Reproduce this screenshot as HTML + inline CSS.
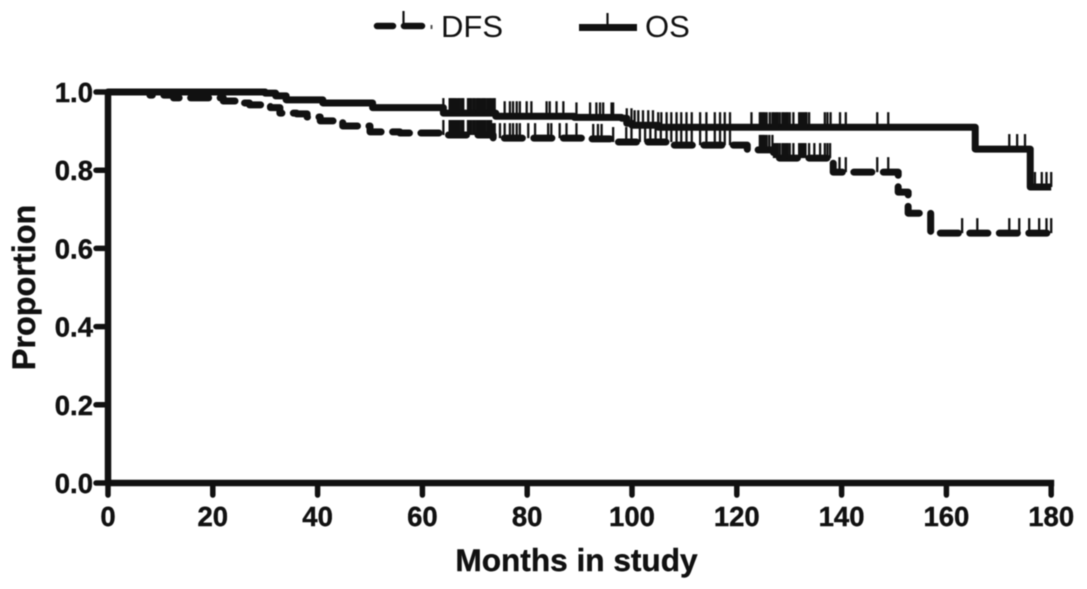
<!DOCTYPE html>
<html lang="en">
<head>
<meta charset="utf-8">
<title>Proportion over months in study</title>
<style>
html,body{margin:0;padding:0;background:#fff;}
#chart{display:block;width:1087px;height:589px;filter:blur(0.5px);}
text{fill:#111;font-family:"Liberation Sans",sans-serif;}
.b{font-weight:bold;stroke:#111;stroke-width:0.4px;}
</style>
</head>
<body>
<svg id="chart" xmlns="http://www.w3.org/2000/svg" width="1087" height="589" viewBox="0 0 1087 589">
  <rect width="1087" height="589" fill="#fff"/>
  <g id="series"></g>
  <g id="axes"></g>
  <text class="b" x="576.500" y="571" font-size="31.600" text-anchor="middle">Months in study</text>
  <text class="b" transform="translate(35,287.500) rotate(-90)" font-size="32.400" text-anchor="middle">Proportion</text>
  <g>
    <g>
      <path d="M377 26H393" stroke="#111" stroke-width="6.500" stroke-linecap="round" fill="none"/>
      <path d="M404 26H422" stroke="#111" stroke-width="6.500" stroke-linecap="round" fill="none"/>
      <path d="M431.500 25V29" stroke="#555" stroke-width="2" fill="none"/>
      <path d="M403.500 11V26" stroke="#111" stroke-width="2.200" fill="none"/>
      <text x="441" y="37" font-size="31">DFS</text>
    </g>
    <g>
      <path d="M579 27.500H637" stroke="#111" stroke-width="7" fill="none"/>
      <path d="M607.500 13V27" stroke="#111" stroke-width="2.200" fill="none"/>
      <text x="645" y="37" font-size="31">OS</text>
    </g>
  </g>
</svg>
<script>
const xTickLabels = [0, 20, 40, 60, 80, 100, 120, 140, 160, 180];
const yTickLabels = ["0.0", "0.2", "0.4", "0.6", "0.8", "1.0"];

const osStepMonths = [0, 30, 32, 34, 41, 50.5, 64, 74, 89, 98, 99, 100, 105, 165.5, 176, 180];
const osStepValues = [1, 0.997, 0.99, 0.98, 0.972, 0.96, 0.946, 0.938, 0.935, 0.933, 0.92, 0.915, 0.91, 0.854, 0.757, 0.757];

const dfsStepMonths = [0, 8, 12.5, 22, 25, 27, 31, 32.8, 36, 38, 40.5, 44.8, 50, 55.7, 64, 73.5, 91, 96, 108, 122, 127, 138.4, 150.8, 152.7, 157, 180];
const dfsStepValues = [1, 0.992, 0.985, 0.977, 0.972, 0.967, 0.96, 0.946, 0.944, 0.936, 0.926, 0.913, 0.898, 0.895, 0.89, 0.882, 0.88, 0.872, 0.864, 0.852, 0.831, 0.795, 0.744, 0.69, 0.639, 0.639];

const osCensorMonths = [64, 65.2, 65.5, 65.8, 66.1, 66.4, 66.8, 67.1, 67.5, 67.8, 68.7, 69, 69.3, 69.7, 70, 70.4, 70.7, 71, 71.4, 71.7, 72, 72.4, 72.8, 73.1, 73.5, 73.8, 75.7, 76.7, 77.3, 78, 78.6, 79.9, 80.8, 83.7, 84.3, 85.6, 86.9, 89.4, 92, 93.2, 93.9, 94.5, 96.1, 96.4, 99, 99.9, 100.5, 101.2, 102.1, 103.1, 104, 105, 105.6, 106.6, 107.5, 108.5, 109.4, 110.4, 111.4, 113, 114.2, 115.8, 116.8, 117.7, 118.7, 122.8, 124.4, 124.7, 125, 125.3, 125.7, 126.3, 126.8, 127.1, 127.5, 127.8, 128.2, 128.7, 129, 129.4, 129.7, 130.1, 130.8, 131.9, 132.2, 132.5, 132.8, 133.1, 133.3, 133.8, 136.8, 137.3, 137.9, 139.7, 140.8, 146.8, 148.9, 172, 173.5, 175, 176.9, 178.2, 179.1, 180];

const dfsCensorMonths = [64, 65.2, 65.5, 65.8, 66.1, 66.4, 66.8, 67.1, 67.5, 67.8, 68.7, 69, 69.3, 69.7, 70, 70.4, 70.7, 71, 71.4, 71.7, 72, 72.4, 72.8, 73.1, 73.5, 73.8, 74.8, 75.7, 76.7, 77.3, 78, 78.6, 80.2, 81.5, 84, 84.6, 86.2, 87.5, 89.4, 92.6, 93.5, 94.2, 96.4, 98.9, 99.9, 101.5, 102.5, 103.5, 104.5, 105.5, 106.6, 107.5, 108.5, 109.4, 110.4, 111.4, 113, 114.2, 115.8, 116.8, 117.7, 118.7, 124.4, 124.7, 125, 125.3, 125.7, 126.2, 126.8, 127.1, 127.5, 127.8, 128.2, 128.7, 129, 129.4, 129.7, 130.1, 130.8, 131.9, 132.2, 132.5, 132.8, 133.1, 133.8, 134.8, 135.9, 136.8, 137.3, 137.8, 139.6, 140.8, 146.8, 148.9, 163, 165.9, 172, 173.9, 175.8, 177.7, 179.1, 180];

const NS = "http://www.w3.org/2000/svg";
const INK = "#111";

function xScale(month) { return 108 + month * 5.24; }
function yScale(value) { return 483 - value * 391; }

function stepValueAt(months, values, month) {
  let v = values[0];
  for (let i = 0; i < months.length; i++) {
    if (months[i] <= month) v = values[i];
  }
  return v;
}

function stepPath(months, values) {
  let d = "M" + xScale(months[0]) + " " + yScale(values[0]);
  for (let i = 1; i < months.length; i++) {
    d += "H" + xScale(months[i]) + "V" + yScale(values[i]);
  }
  return d;
}

function makeEl(tag, parent) {
  const el = document.createElementNS(NS, tag);
  parent.appendChild(el);
  return el;
}

const seriesGroup = document.getElementById("series");
const axesGroup = document.getElementById("axes");

const dfsLine = makeEl("path", seriesGroup);


dfsLine.setAttribute("d", stepPath(dfsStepMonths, dfsStepValues));
dfsLine.setAttribute("fill", "none");
dfsLine.setAttribute("stroke", INK);
dfsLine.setAttribute("stroke-width", "7");
dfsLine.setAttribute("stroke-linecap", "round");
dfsLine.setAttribute("stroke-linejoin", "round");
dfsLine.setAttribute("stroke-dasharray", "18 11.500");

const osLine = makeEl("path", seriesGroup);


osLine.setAttribute("d", stepPath(osStepMonths, osStepValues));
osLine.setAttribute("fill", "none");
osLine.setAttribute("stroke", INK);
osLine.setAttribute("stroke-width", "7");
osLine.setAttribute("stroke-linejoin", "round");

dfsCensorMonths.forEach(function (m) {
  const tick = makeEl("line", seriesGroup);
  
  
  const y = yScale(stepValueAt(dfsStepMonths, dfsStepValues, m));
  tick.setAttribute("x1", xScale(m));
  tick.setAttribute("x2", xScale(m));
  tick.setAttribute("y1", y);
  tick.setAttribute("y2", y - 15);
  tick.setAttribute("stroke", INK);
  tick.setAttribute("stroke-width", "2.300");
});

osCensorMonths.forEach(function (m) {
  const tick = makeEl("line", seriesGroup);
  
  
  const y = yScale(stepValueAt(osStepMonths, osStepValues, m));
  tick.setAttribute("x1", xScale(m));
  tick.setAttribute("x2", xScale(m));
  tick.setAttribute("y1", y);
  tick.setAttribute("y2", y - 15);
  tick.setAttribute("stroke", INK);
  tick.setAttribute("stroke-width", "2.300");
});

const yAxisLine = makeEl("line", axesGroup);


yAxisLine.setAttribute("x1", xScale(0));
yAxisLine.setAttribute("x2", xScale(0));
yAxisLine.setAttribute("y1", yScale(1));
yAxisLine.setAttribute("y2", yScale(0));
yAxisLine.setAttribute("stroke", INK);
yAxisLine.setAttribute("stroke-width", "6.500");

const xAxisLine = makeEl("line", axesGroup);


xAxisLine.setAttribute("x1", xScale(0));
xAxisLine.setAttribute("x2", xScale(180) + 3);
xAxisLine.setAttribute("y1", yScale(0));
xAxisLine.setAttribute("y2", yScale(0));
xAxisLine.setAttribute("stroke", INK);
xAxisLine.setAttribute("stroke-width", "6.500");

xTickLabels.forEach(function (t) {
  const tick = makeEl("line", axesGroup);
  
  
  tick.setAttribute("x1", xScale(t));
  tick.setAttribute("x2", xScale(t));
  tick.setAttribute("y1", yScale(0));
  tick.setAttribute("y2", yScale(0) + 12);
  tick.setAttribute("stroke", INK);
  tick.setAttribute("stroke-width", "5.500");
  tick.setAttribute("stroke-linecap", "round");
  const label = makeEl("text", axesGroup);
  
  
  label.setAttribute("class", "b");
  label.setAttribute("x", xScale(t));
  label.setAttribute("y", 526);
  label.setAttribute("font-size", "27.500");
  label.setAttribute("text-anchor", "middle");
  label.textContent = t;
});

yTickLabels.forEach(function (t) {
  const v = parseFloat(t);
  const tick = makeEl("line", axesGroup);
  
  
  tick.setAttribute("x1", xScale(0));
  tick.setAttribute("x2", xScale(0) - 12);
  tick.setAttribute("y1", yScale(v));
  tick.setAttribute("y2", yScale(v));
  tick.setAttribute("stroke", INK);
  tick.setAttribute("stroke-width", "5.500");
  tick.setAttribute("stroke-linecap", "round");
  const label = makeEl("text", axesGroup);
  
  
  label.setAttribute("class", "b");
  label.setAttribute("x", 93);
  label.setAttribute("y", yScale(v) + 10);
  label.setAttribute("font-size", "27.500");
  label.setAttribute("text-anchor", "end");
  label.textContent = t;
});
</script>
</body>
</html>
